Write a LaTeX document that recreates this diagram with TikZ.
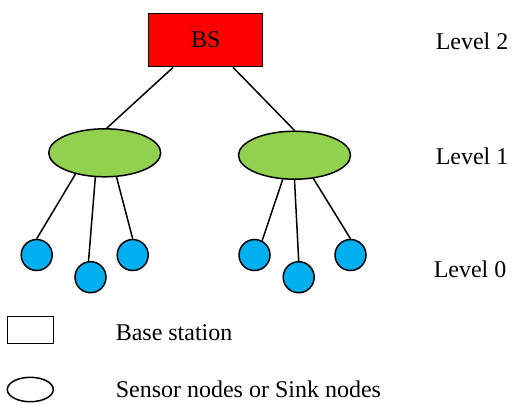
\documentclass[tikz,border=0pt,12pt]{standalone}
\usepackage{fontspec}
\setmainfont{Liberation Serif}
\usepackage{xcolor}
\definecolor{bsred}{HTML}{FF0000}
\definecolor{sinkgreen}{HTML}{92D050}
\definecolor{sensorblue}{HTML}{00B0F0}
\usetikzlibrary{shapes.geometric}

\begin{document}
\begin{tikzpicture}[x=0.5pt,y=-0.5pt,line width=0.75pt,
  basebox/.style={draw,fill=bsred,minimum width=57pt,minimum height=26.5pt,inner sep=0pt},
  sink/.style={draw,ellipse,fill=sinkgreen,minimum width=56pt,minimum height=24pt,inner sep=0pt},
  sensor/.style={draw,circle,fill=sensorblue,minimum size=15.5pt,inner sep=0pt},
  lbl/.style={anchor=west,inner sep=0pt}]
  \useasboundingbox (0,0) rectangle (517,403);
  % Level 2
  \node[basebox] (bs) at (205.7,40) {BS};
  % Level 1
  \node[sink] (sinkL) at (104.7,152.8) {};
  \node[sink] (sinkR) at (294.5,155.2) {};
  \draw (bs.220) -- (sinkL.85);
  \draw (bs.315) -- (sinkR.north);
  % Level 0
  \node[sensor] (s1) at (36.7,255) {};
  \node[sensor] (s2) at (90.5,277.2) {};
  \node[sensor] (s3) at (132.7,255) {};
  \node[sensor] (s4) at (254.5,255) {};
  \node[sensor] (s5) at (298.7,277.2) {};
  \node[sensor] (s6) at (350.5,255) {};
  \draw (sinkL.216) -- (s1.north);
  \draw (sinkL.249) -- (s2.97);
  \draw (sinkL.296) -- (s3.north);
  \draw (sinkR.244) -- (s4.62);
  \draw (sinkR.270) -- (s5.north);
  \draw (sinkR.309) -- (s6.north);
  % Levels
  \node[lbl] (lvl2) at (435,41) {Level 2};
  \node[lbl] (lvl1) at (435,156) {Level 1};
  \node[lbl] (lvl0) at (433,269) {Level 0};
  % Legend
  \node[draw,minimum width=23pt,minimum height=13.3pt,inner sep=0pt] (keybs) at (30.3,330) {};
  \node[lbl] (keybstext) at (115,333) {Base station};
  \node[draw,ellipse,minimum width=23pt,minimum height=12.2pt,inner sep=0pt] (keysink) at (30.3,389.5) {};
  \node[lbl] (keysinktext) at (115,389) {Sensor nodes or Sink nodes};
\end{tikzpicture}
\end{document}
